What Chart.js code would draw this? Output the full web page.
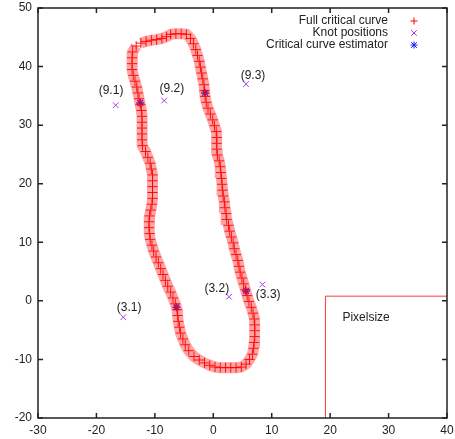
<!DOCTYPE html>
<html>
<head>
<meta charset="utf-8">
<script src="https://cdn.jsdelivr.net/npm/chart.js@4.4.1/dist/chart.umd.min.js"></script>
<style>
  html, body { margin: 0; padding: 0; background: #fff; }
</style>
</head>
<body>
<canvas id="chart" width="455" height="439"></canvas>
<script>
/* critical curve, traced clockwise from top-left (x, y) */
const curvePts = [
  [-13.2, 43.5], [-13.8, 42.5], [-13.9, 41.5], [-13.9, 40.5], [-13.9, 39.5], [-13.7, 38.5],
  [-13.4, 37.5], [-13.1, 36.5], [-12.9, 35.5], [-12.7, 34.5], [-12.5, 33.5], [-12.3, 32.5],
  [-12.2, 31.5], [-12.2, 30.5], [-12.2, 29.5], [-12.2, 28.5], [-12.2, 27.5], [-12.1, 26.5],
  [-11.6, 25.5], [-11.2, 24.5], [-10.8, 23.5], [-10.6, 22.5], [-10.4, 21.5], [-10.4, 20.5],
  [-10.4, 19.5], [-10.4, 18.5], [-10.4, 17.5], [-10.5, 16.5], [-10.7, 15.5], [-10.9, 14.5],
  [-11.0, 13.5], [-11.0, 12.5], [-10.9, 11.5], [-10.8, 10.5], [-10.5, 9.5], [-10.2, 8.5],
  [-9.8, 7.5], [-9.4, 6.5], [-9.0, 5.5], [-8.6, 4.5], [-8.2, 3.5], [-7.8, 2.5],
  [-7.3, 1.5], [-6.9, 0.5], [-6.5, -0.5], [-6.2, -1.5], [-6.1, -2.5], [-6.0, -3.5],
  [-5.8, -4.5], [-5.6, -5.5], [-5.2, -6.5], [-4.8, -7.5], [-4.2, -8.5], [-3.3, -9.5],
  [-2.4, -10.1], [-1.5, -10.6], [-0.6, -11.0], [0.3, -11.3], [1.2, -11.4], [2.1, -11.4],
  [3.0, -11.4], [3.9, -11.4], [4.8, -11.3], [5.6, -10.8], [6.2, -10.0], [6.7, -9.1],
  [6.9, -8.1], [7.0, -7.1], [7.1, -6.1], [7.1, -5.1], [7.1, -4.1], [7.0, -3.1],
  [6.8, -2.1], [6.5, -1.1], [6.1, -0.1], [5.8, 0.9], [5.5, 1.9], [5.2, 2.9],
  [4.9, 3.9], [4.6, 4.9], [4.4, 5.9], [4.2, 6.9], [3.9, 7.9], [3.6, 8.9],
  [3.4, 9.9], [3.1, 10.9], [2.8, 11.9], [2.6, 12.9], [2.3, 13.9], [2.2, 14.9],
  [2.0, 15.9], [1.9, 16.9], [1.7, 17.9], [1.6, 18.9], [1.5, 19.9], [1.4, 20.9],
  [1.3, 21.9], [1.2, 22.9], [1.0, 23.9], [0.7, 24.9], [0.6, 25.9], [0.6, 26.9],
  [0.6, 27.9], [0.5, 28.9], [0.2, 29.9], [-0.1, 30.9], [-0.5, 31.9], [-0.9, 32.9],
  [-1.2, 33.9], [-1.4, 34.9], [-1.5, 35.9], [-1.6, 36.9], [-1.8, 37.9], [-2.0, 38.9],
  [-2.2, 39.9], [-2.4, 40.9], [-2.7, 41.9], [-3.0, 42.9], [-3.4, 43.9], [-3.9, 44.8],
  [-4.6, 45.5], [-5.5, 45.6], [-6.4, 45.6], [-7.3, 45.5], [-8.0, 45.1], [-8.8, 44.8],
  [-9.7, 44.6], [-10.6, 44.5], [-11.5, 44.3], [-12.4, 44.0]
];

/* knots and estimator points */
const knotNames = ["(9.1)", "(9.2)", "(9.3)", "(3.1)", "(3.2)", "(3.3)"];
const knotX = [-16.7, -8.4, 5.6, -15.4, 2.7, 8.4];
const knotY = [33.4, 34.2, 37.0, -2.8, 0.7, 2.8];
const labelX = [-17.5, -7.1, 6.8, -14.4, 0.6, 9.4];
const labelY = [35.8, 36.3, 38.4, -1.2, 2.0, 1.0];

const estX = [-12.5, -1.4, -6.3, 5.6];
const estY = [33.8, 35.5, -1.1, 1.7];

/* pixel-size box */
const boxX = [19.2, 19.2, 40];
const boxY = [-20, 0.8, 0.8];
const boxLabel = "Pixelsize";
const boxLabelPos = [22.1, -2.9];

const legendNames = ["Full critical curve", "Knot positions", "Critical curve estimator"];

const FONT = '12px "Liberation Sans", Arial, sans-serif';
const RED = "#ff0000";
const PURPLE = "#a040f0";
const BLUE = "#1a1aff";

function drawMark(ctx, type, x, y, r, color) {
  ctx.strokeStyle = color;
  ctx.lineWidth = 1;
  ctx.beginPath();
  if (type === "plus" || type === "star") {
    ctx.moveTo(x - r, y); ctx.lineTo(x + r, y);
    ctx.moveTo(x, y - r); ctx.lineTo(x, y + r);
  }
  if (type === "x" || type === "star") {
    const d = r * 0.8;
    ctx.moveTo(x - d, y - d); ctx.lineTo(x + d, y + d);
    ctx.moveTo(x - d, y + d); ctx.lineTo(x + d, y - d);
  }
  ctx.stroke();
}

const gnuplotFrame = {
  id: "gnuplotFrame",
  afterDatasetsDraw(chart) {
    const { ctx, chartArea: a, scales: { x, y } } = chart;
    ctx.save();

    // border + inward ticks on all sides
    ctx.strokeStyle = "#222";
    ctx.lineWidth = 1.5;
    ctx.strokeRect(a.left, a.top, a.right - a.left, a.bottom - a.top);
    ctx.beginPath();
    x.ticks.forEach(t => {
      const px = x.getPixelForValue(t.value);
      ctx.moveTo(px, a.bottom); ctx.lineTo(px, a.bottom - 5);
      ctx.moveTo(px, a.top); ctx.lineTo(px, a.top + 5);
    });
    y.ticks.forEach(t => {
      const py = y.getPixelForValue(t.value);
      ctx.moveTo(a.left, py); ctx.lineTo(a.left + 5, py);
      ctx.moveTo(a.right, py); ctx.lineTo(a.right - 5, py);
    });
    ctx.stroke();

    // knot labels
    ctx.font = FONT;
    ctx.fillStyle = "#222";
    ctx.textAlign = "center";
    ctx.textBaseline = "middle";
    knotNames.forEach((n, i) => {
      ctx.fillText(n, x.getPixelForValue(labelX[i]), y.getPixelForValue(labelY[i]));
    });

    ctx.textAlign = "left";
    ctx.fillText(boxLabel, x.getPixelForValue(boxLabelPos[0]), y.getPixelForValue(boxLabelPos[1]));

    // legend, gnuplot style (text right, symbol after)
    const marks = [["plus", RED], ["x", PURPLE], ["star", BLUE]];
    ctx.textAlign = "right";
    legendNames.forEach((n, i) => {
      const ly = 21 + i * 12;
      ctx.fillStyle = "#222";
      ctx.fillText(n, 388, ly);
      drawMark(ctx, marks[i][0], 414, ly, 3.5, marks[i][1]);
    });

    ctx.restore();
  }
};

const tickFont = { family: '"Liberation Sans", Arial, sans-serif', size: 12 };

new Chart(document.getElementById("chart"), {
  type: "scatter",
  data: {
    datasets: [
      {
        label: legendNames[0],
        data: curvePts.map(p => ({ x: p[0], y: p[1] })),
        showLine: true,
        borderColor: "rgba(255,40,40,0.42)",
        borderWidth: 11,
        pointStyle: "cross",
        pointRadius: 5,
        pointBorderColor: "rgba(255,0,0,0.9)",
        pointBorderWidth: 1
      },
      {
        label: legendNames[1],
        data: knotX.map((v, i) => ({ x: v, y: knotY[i] })),
        pointStyle: "crossRot",
        pointRadius: 4,
        pointBorderColor: PURPLE,
        pointBorderWidth: 1
      },
      {
        label: legendNames[2],
        data: estX.map((v, i) => ({ x: v, y: estY[i] })),
        pointStyle: "star",
        pointRadius: 4,
        pointBorderColor: BLUE,
        pointBorderWidth: 1.5
      },
      {
        label: boxLabel,
        data: boxX.map((v, i) => ({ x: v, y: boxY[i] })),
        showLine: true,
        borderColor: "#ff3a3a",
        borderWidth: 1,
        pointRadius: 0
      }
    ]
  },
  options: {
    responsive: false,
    devicePixelRatio: 1,
    animation: false,
    layout: { padding: { top: 8, right: 8, left: 0, bottom: 0 } },
    plugins: { legend: { display: false }, tooltip: { enabled: false } },
    scales: {
      x: {
        type: "linear",
        min: -30, max: 40,
        ticks: { stepSize: 10, font: tickFont, color: "#222", padding: 5, maxRotation: 0 },
        grid: { display: true, drawOnChartArea: false, drawTicks: false },
        border: { display: false },
        afterFit: s => { s.height = 21; s.paddingLeft = 0; s.paddingRight = 0; }
      },
      y: {
        min: -20, max: 50,
        ticks: { stepSize: 10, font: tickFont, color: "#222", padding: 6 },
        grid: { display: true, drawOnChartArea: false, drawTicks: false },
        border: { display: false },
        afterFit: s => { s.width = 38; s.paddingTop = 0; s.paddingBottom = 0; }
      }
    }
  },
  plugins: [gnuplotFrame]
});
</script>
</body>
</html>
